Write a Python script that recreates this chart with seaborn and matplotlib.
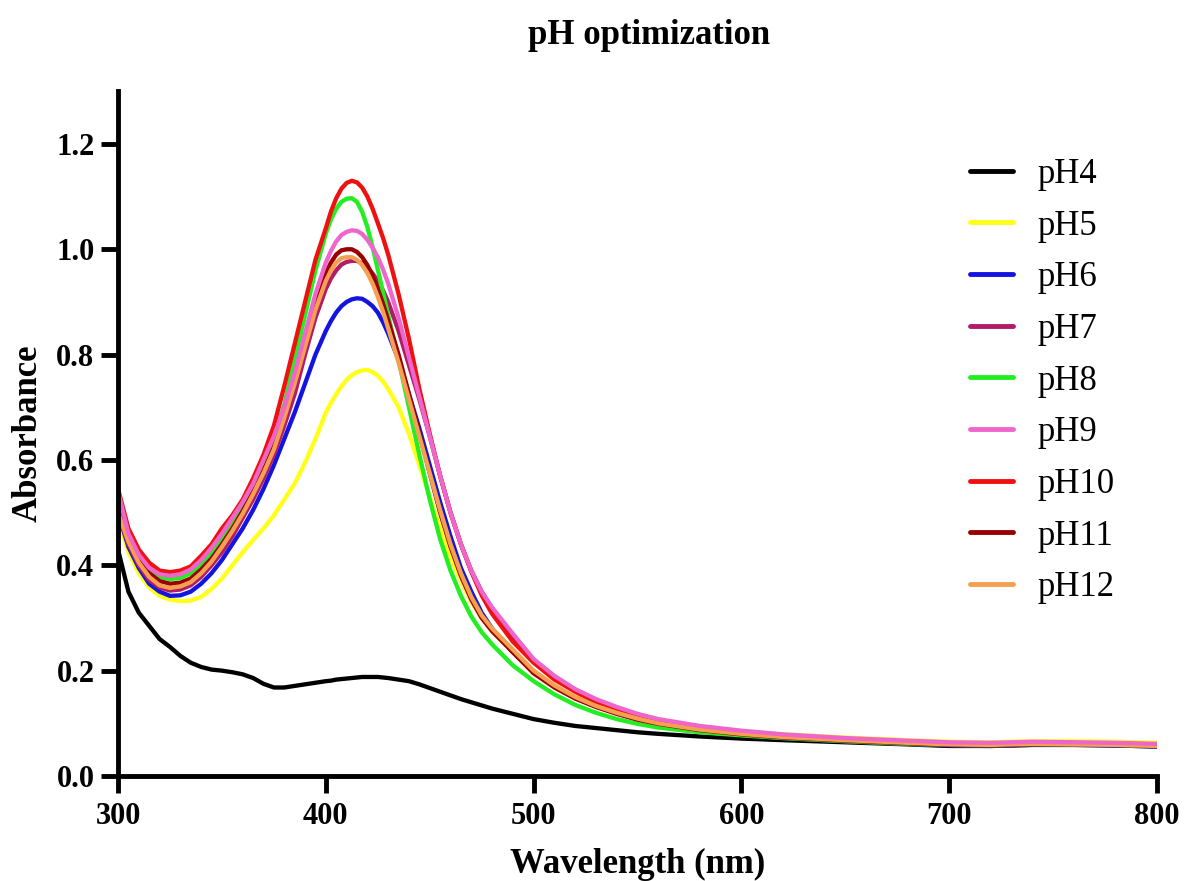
import numpy as np
import pandas as pd
import matplotlib
matplotlib.use("Agg")
import matplotlib.pyplot as plt
import seaborn as sns

# UV-Vis absorbance spectra recorded at different pH values
wavelength = [300, 305, 310, 315, 320, 325, 330, 335, 340, 345,
              350, 355, 360, 365, 370, 375, 380, 385, 390, 395,
              400, 402.5, 405, 407.5, 410, 412.5, 415, 417.5, 420, 422.5, 425, 427.5, 430,
              435, 440, 445, 450, 455, 460, 465, 470, 475, 480,
              490, 500, 510, 520, 530, 540, 550, 560,
              580, 600, 620, 650, 680, 700, 720, 740, 760, 780, 800]

ph4 = [0.430, 0.350, 0.310, 0.285, 0.260, 0.245, 0.228, 0.215, 0.207, 0.202,
       0.200, 0.197, 0.193, 0.186, 0.175, 0.168, 0.168, 0.171, 0.174, 0.177,
       0.180, 0.181, 0.183, 0.184, 0.185, 0.186, 0.187, 0.188, 0.188, 0.188, 0.188, 0.187, 0.186,
       0.183, 0.180, 0.174, 0.167, 0.160, 0.153, 0.146, 0.140, 0.134, 0.128,
       0.118, 0.108, 0.101, 0.095, 0.091, 0.087, 0.083, 0.080,
       0.075, 0.071, 0.068, 0.064, 0.060, 0.057, 0.057, 0.059, 0.059, 0.058, 0.056]

ph5 = [0.490, 0.425, 0.385, 0.358, 0.342, 0.335, 0.332, 0.333, 0.340, 0.355,
       0.375, 0.400, 0.425, 0.448, 0.470, 0.495, 0.525, 0.555, 0.595, 0.640,
       0.690, 0.709, 0.725, 0.740, 0.752, 0.761, 0.767, 0.770, 0.771, 0.767, 0.760, 0.749, 0.735,
       0.700, 0.650, 0.590, 0.530, 0.470, 0.415, 0.370, 0.330, 0.300, 0.275,
       0.235, 0.195, 0.170, 0.150, 0.135, 0.123, 0.113, 0.104,
       0.093, 0.085, 0.079, 0.073, 0.068, 0.065, 0.064, 0.066, 0.066, 0.065, 0.063]

ph6 = [0.500, 0.435, 0.395, 0.365, 0.350, 0.342, 0.343, 0.350, 0.365, 0.385,
       0.410, 0.440, 0.470, 0.505, 0.545, 0.590, 0.640, 0.690, 0.745, 0.800,
       0.845, 0.864, 0.880, 0.892, 0.900, 0.905, 0.907, 0.906, 0.900, 0.892, 0.880, 0.862, 0.840,
       0.790, 0.725, 0.660, 0.590, 0.520, 0.455, 0.395, 0.350, 0.310, 0.280,
       0.235, 0.198, 0.170, 0.148, 0.132, 0.119, 0.108, 0.099,
       0.087, 0.078, 0.072, 0.066, 0.061, 0.058, 0.057, 0.059, 0.059, 0.058, 0.056]

ph7 = [0.500, 0.440, 0.400, 0.372, 0.358, 0.352, 0.354, 0.362, 0.378, 0.400,
       0.425, 0.455, 0.490, 0.525, 0.565, 0.610, 0.665, 0.725, 0.800, 0.870,
       0.925, 0.945, 0.960, 0.971, 0.976, 0.978, 0.978, 0.973, 0.965, 0.954, 0.940, 0.922, 0.900,
       0.845, 0.780, 0.715, 0.645, 0.570, 0.500, 0.440, 0.390, 0.350, 0.318,
       0.265, 0.220, 0.188, 0.163, 0.144, 0.129, 0.116, 0.106,
       0.093, 0.084, 0.077, 0.070, 0.065, 0.062, 0.061, 0.063, 0.062, 0.061, 0.059]

ph8 = [0.520, 0.455, 0.415, 0.390, 0.378, 0.374, 0.376, 0.385, 0.402, 0.425,
       0.452, 0.485, 0.515, 0.550, 0.595, 0.640, 0.705, 0.790, 0.875, 0.960,
       1.030, 1.057, 1.077, 1.090, 1.096, 1.097, 1.090, 1.071, 1.042, 1.004, 0.962, 0.918, 0.875,
       0.790, 0.700, 0.610, 0.525, 0.450, 0.390, 0.342, 0.303, 0.273, 0.250,
       0.210, 0.180, 0.155, 0.135, 0.120, 0.108, 0.099, 0.092,
       0.083, 0.077, 0.072, 0.066, 0.061, 0.059, 0.058, 0.060, 0.060, 0.059, 0.057]

ph9 = [0.540, 0.460, 0.420, 0.395, 0.383, 0.380, 0.383, 0.392, 0.410, 0.433,
       0.460, 0.490, 0.520, 0.555, 0.600, 0.645, 0.700, 0.765, 0.840, 0.915,
       0.975, 0.997, 1.015, 1.027, 1.033, 1.036, 1.035, 1.029, 1.018, 1.003, 0.985, 0.962, 0.935,
       0.870, 0.795, 0.720, 0.645, 0.570, 0.500, 0.440, 0.390, 0.350, 0.320,
       0.270, 0.222, 0.190, 0.165, 0.146, 0.131, 0.118, 0.108,
       0.095, 0.086, 0.079, 0.072, 0.067, 0.064, 0.063, 0.065, 0.064, 0.063, 0.061]

ph10 = [0.545, 0.470, 0.430, 0.405, 0.390, 0.387, 0.390, 0.398, 0.418, 0.440,
        0.470, 0.495, 0.525, 0.565, 0.610, 0.665, 0.740, 0.820, 0.900, 0.980,
        1.040, 1.072, 1.097, 1.115, 1.126, 1.130, 1.127, 1.117, 1.100, 1.077, 1.050, 1.022, 0.990,
        0.915, 0.830, 0.735, 0.650, 0.570, 0.500, 0.440, 0.388, 0.343, 0.308,
        0.255, 0.215, 0.183, 0.160, 0.140, 0.125, 0.113, 0.104,
        0.091, 0.082, 0.076, 0.069, 0.064, 0.061, 0.060, 0.062, 0.061, 0.060, 0.058]

ph11 = [0.510, 0.450, 0.410, 0.385, 0.370, 0.365, 0.367, 0.375, 0.392, 0.413,
        0.440, 0.470, 0.503, 0.540, 0.580, 0.625, 0.685, 0.750, 0.825, 0.900,
        0.955, 0.975, 0.990, 0.998, 1.000, 1.000, 0.995, 0.985, 0.970, 0.950, 0.925, 0.897, 0.865,
        0.800, 0.725, 0.650, 0.575, 0.500, 0.435, 0.380, 0.335, 0.300, 0.275,
        0.235, 0.195, 0.168, 0.147, 0.131, 0.118, 0.107, 0.099,
        0.087, 0.079, 0.073, 0.067, 0.062, 0.059, 0.058, 0.060, 0.060, 0.059, 0.057]

ph12 = [0.500, 0.445, 0.405, 0.378, 0.362, 0.357, 0.360, 0.368, 0.385, 0.407,
        0.435, 0.465, 0.498, 0.535, 0.575, 0.620, 0.680, 0.745, 0.815, 0.885,
        0.940, 0.960, 0.975, 0.983, 0.985, 0.985, 0.980, 0.970, 0.955, 0.935, 0.910, 0.882, 0.850,
        0.785, 0.715, 0.645, 0.575, 0.505, 0.440, 0.385, 0.340, 0.305, 0.280,
        0.240, 0.200, 0.172, 0.150, 0.133, 0.120, 0.109, 0.100,
        0.088, 0.080, 0.074, 0.068, 0.063, 0.060, 0.059, 0.061, 0.060, 0.059, 0.057]

labels = ["pH4", "pH5", "pH6", "pH7", "pH8", "pH9", "pH10", "pH11", "pH12"]
series = [ph4, ph5, ph6, ph7, ph8, ph9, ph10, ph11, ph12]
colors = ["#000000", "#FFFF1A", "#1414E0", "#B01C68", "#22EE22",
          "#EE66CC", "#EE1111", "#990000", "#F4A050"]

df = pd.concat(
    [pd.DataFrame({"Wavelength": wavelength, "Absorbance": vals, "Sample": lab})
     for lab, vals in zip(labels, series)],
    ignore_index=True,
)

sns.set_theme(style="ticks")
plt.rcParams["font.family"] = ["Liberation Serif", "DejaVu Serif"]
plt.rcParams["text.color"] = "black"
plt.rcParams["axes.labelcolor"] = "black"
plt.rcParams["xtick.color"] = "black"
plt.rcParams["ytick.color"] = "black"

fig = plt.figure(figsize=(11.85, 8.81), dpi=100)
ax = fig.add_axes([0.0996, 0.1192, 0.8768, 0.7772])

sns.lineplot(
    data=df, x="Wavelength", y="Absorbance", hue="Sample", hue_order=labels,
    palette=dict(zip(labels, colors)), linewidth=3.1, estimator=None, sort=False, ax=ax,
)
# keep the pH9 trace above the pH10 trace where they overlap on the red edge
ax.lines[labels.index("pH9")].set_zorder(2.5)

ax.set_xlim(300, 800)
ax.set_ylim(0, 1.3)
ax.set_xticks(np.arange(300, 801, 100))
ax.set_yticks(np.arange(0, 1.21, 0.2))
ax.set_yticklabels([f"{v:.1f}" for v in np.arange(0, 1.21, 0.2)])

sns.despine(ax=ax)
for side in ("left", "bottom"):
    ax.spines[side].set_linewidth(3.5)
    ax.spines[side].set_color("black")
ax.tick_params(axis="both", which="major", direction="out", length=12, width=3.5,
               color="black", labelsize=22, labelcolor="black")
ax.tick_params(axis="x", pad=7)
ax.tick_params(axis="y", pad=5)
for lbl in ax.get_xticklabels() + ax.get_yticklabels():
    lbl.set_fontweight("bold")

ax.set_xlabel("Wavelength (nm)", fontsize=25, fontweight="bold", labelpad=12, color="black")
ax.set_ylabel("Absorbance", fontsize=25, fontweight="bold", labelpad=8, color="black")
fig.text(0.548, 0.960, "pH optimization", ha="center", va="center",
         fontsize=25, fontweight="bold", color="black")

handles, _ = ax.get_legend_handles_labels()
leg = ax.legend(
    handles, labels, loc="upper left", bbox_to_anchor=(970 / 1185, 1 - 158 / 881),
    bbox_transform=fig.transFigure, frameon=False, fontsize=25,
    handlelength=1.24, handletextpad=0.69, labelspacing=0.537, borderpad=0,
    borderaxespad=0,
)
for line in leg.get_lines():
    line.set_linewidth(3.5)
for txt in leg.get_texts():
    txt.set_color("black")

fig.savefig("out.png", dpi=100, facecolor="white")
